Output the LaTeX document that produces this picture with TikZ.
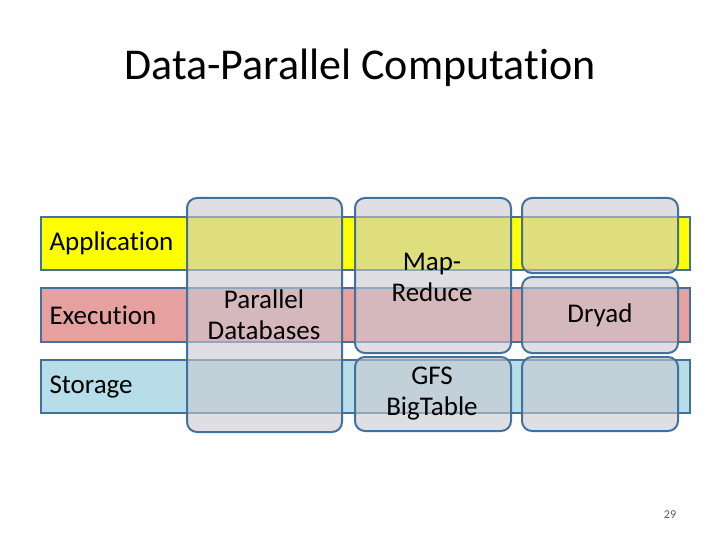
\documentclass[tikz,border=0pt]{standalone}
\usepackage{fontspec}
\setmainfont[Ligatures=NoCommon]{Carlito}
\definecolor{bord}{HTML}{41719C}
\definecolor{yel}{HTML}{FFFF00}
\definecolor{rd}{HTML}{E6A0A0}
\definecolor{bl}{HTML}{B7DEE8}
\definecolor{colf}{HTML}{C8C8D0}
\begin{document}
\begin{tikzpicture}[x=1pt,y=-1pt,
band/.style={draw=bord, line width=1.5pt},
col/.style={draw=bord, fill=colf, fill opacity=0.6, rounded corners=10pt, line width=2pt},
lbl/.style={font=\fontsize{27}{31}\selectfont, align=center, text=black}]
\useasboundingbox (0,0) rectangle (720,540);
\node[font=\fontsize{44}{48}\selectfont] (title) at (360,68) {Data-Parallel Computation};
\draw[band, fill=yel] (41,217) rectangle (690,270);
\draw[band, fill=rd] (41,288) rectangle (690,342);
\draw[band, fill=bl] (41,360) rectangle (690,413);
\node[lbl, anchor=west] (app) at (46,243) {Application};
\node[lbl, anchor=west] (exe) at (46,315) {Execution};
\node[lbl, anchor=west] (sto) at (46,387) {Storage};
\draw[col] (187,198) rectangle (342,432);
\draw[col] (355,198) rectangle (511,353);
\draw[col] (355,357) rectangle (511,431);
\draw[col] (522,198) rectangle (678,273);
\draw[col] (522,277) rectangle (678,353);
\draw[col] (522,357) rectangle (678,431);
\node[lbl] (pd) at (264,315) {Parallel\\Databases};
\node[lbl] (mr) at (432,277) {Map-\\Reduce};
\node[lbl] (gfs) at (432,394) {GFS\\BigTable};
\node[lbl] (dry) at (600,315) {Dryad};
\node[font=\fontsize{12}{14}\selectfont, text=gray!70!black] (pg) at (670,515) {29};
\end{tikzpicture}
\end{document}
